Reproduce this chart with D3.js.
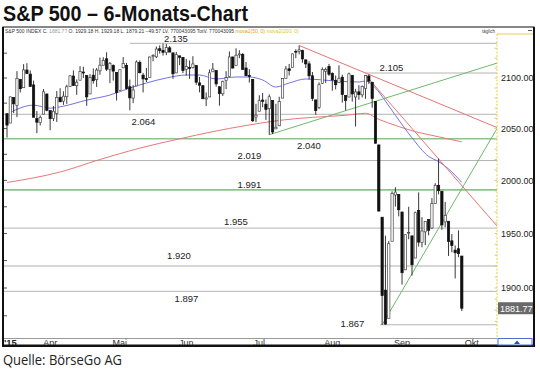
<!DOCTYPE html>
<html>
<head>
<meta charset="utf-8">
<script src="https://cdn.jsdelivr.net/npm/d3@7"></script>
<style>
  body { margin: 0; background: #fff; }
  svg { display: block; }
</style>
</head>
<body>
<svg id="chart" width="540" height="369"></svg>
<script>
// daily candles, S&P 500, 13.03.2015 - 28.09.2015
var dates = [
  "2015-03-13","2015-03-16","2015-03-17","2015-03-18","2015-03-19","2015-03-20","2015-03-23","2015-03-24","2015-03-25","2015-03-26","2015-03-27","2015-03-30","2015-03-31",
  "2015-04-01","2015-04-02","2015-04-06","2015-04-07","2015-04-08","2015-04-09","2015-04-10","2015-04-13","2015-04-14","2015-04-15","2015-04-16","2015-04-17","2015-04-20","2015-04-21","2015-04-22","2015-04-23","2015-04-24","2015-04-27","2015-04-28","2015-04-29","2015-04-30",
  "2015-05-01","2015-05-04","2015-05-05","2015-05-06","2015-05-07","2015-05-08","2015-05-11","2015-05-12","2015-05-13","2015-05-14","2015-05-15","2015-05-18","2015-05-19","2015-05-20","2015-05-21","2015-05-22","2015-05-26","2015-05-27","2015-05-28","2015-05-29",
  "2015-06-01","2015-06-02","2015-06-03","2015-06-04","2015-06-05","2015-06-08","2015-06-09","2015-06-10","2015-06-11","2015-06-12","2015-06-15","2015-06-16","2015-06-17","2015-06-18","2015-06-19","2015-06-22","2015-06-23","2015-06-24","2015-06-25","2015-06-26","2015-06-29","2015-06-30",
  "2015-07-01","2015-07-02","2015-07-06","2015-07-07","2015-07-08","2015-07-09","2015-07-10","2015-07-13","2015-07-14","2015-07-15","2015-07-16","2015-07-17","2015-07-20","2015-07-21","2015-07-22","2015-07-23","2015-07-24","2015-07-27","2015-07-28","2015-07-29","2015-07-30","2015-07-31",
  "2015-08-03","2015-08-04","2015-08-05","2015-08-06","2015-08-07","2015-08-10","2015-08-11","2015-08-12","2015-08-13","2015-08-14","2015-08-17","2015-08-18","2015-08-19","2015-08-20","2015-08-21","2015-08-24","2015-08-25","2015-08-26","2015-08-27","2015-08-28","2015-08-31",
  "2015-09-01","2015-09-02","2015-09-03","2015-09-04","2015-09-08","2015-09-09","2015-09-10","2015-09-11","2015-09-14","2015-09-15","2015-09-16","2015-09-17","2015-09-18","2015-09-21","2015-09-22","2015-09-23","2015-09-24","2015-09-25","2015-09-28"
];
var open = [
  2064.6,2055.4,2080.6,2072.8,2098.7,2090.3,2108.0,2103.9,2093.1,2059.9,2055.8,2064.1,2084.1,
  2067.6,2060.0,2064.9,2080.8,2076.9,2081.3,2091.5,2102.0,2092.3,2097.8,2106.0,2102.6,2084.1,2102.8,2098.3,2107.2,2112.8,2119.3,2108.4,2112.5,2105.5,
  2087.4,2110.2,2112.6,2091.3,2080.0,2092.1,2115.6,2102.9,2099.6,2100.4,2122.1,2121.3,2129.5,2127.8,2125.6,2130.4,2125.3,2105.1,2122.3,2120.7,
  2108.6,2110.4,2110.6,2112.4,2095.1,2092.3,2079.1,2081.1,2106.2,2107.4,2091.3,2084.3,2097.4,2101.6,2121.1,2112.5,2123.2,2123.7,2110.0,2102.6,2098.6,2061.2,
  2067.0,2078.0,2074.0,2069.5,2077.7,2049.7,2052.7,2080.0,2099.7,2109.2,2110.6,2126.8,2126.9,2127.6,2118.2,2114.2,2102.2,2078.2,2070.8,2094.7,2106.8,2111.6,
  2104.5,2097.7,2095.3,2100.8,2082.6,2081.0,2102.7,2081.1,2086.2,2083.2,2089.7,2102.0,2095.7,2076.6,2034.1,1965.2,1898.1,1872.8,1942.8,1986.1,1986.7,
  1970.1,1916.5,1950.8,1947.8,1927.3,1971.5,1941.6,1951.5,1963.1,1955.1,1978.0,1995.3,1989.7,1960.8,1961.4,1943.2,1934.6,1935.9,1929.18
];
var high = [
  2064.6,2081.4,2080.6,2106.9,2098.7,2113.9,2114.9,2107.6,2097.4,2067.2,2062.8,2089.0,2084.1,
  2067.6,2072.2,2087.0,2089.8,2086.7,2093.3,2102.6,2107.7,2098.6,2111.9,2111.3,2102.6,2103.9,2109.6,2110.0,2120.5,2120.9,2125.9,2116.0,2113.7,2105.5,
  2108.4,2121.0,2115.2,2098.4,2092.9,2117.7,2117.7,2105.1,2110.2,2121.5,2123.9,2131.8,2133.0,2134.7,2134.3,2132.2,2125.3,2126.2,2122.3,2120.7,
  2119.2,2117.6,2121.9,2112.9,2101.0,2093.0,2085.6,2108.5,2115.0,2107.4,2091.3,2097.4,2106.8,2126.7,2121.6,2129.9,2128.0,2125.1,2116.0,2108.9,2098.6,2074.3,
  2082.8,2085.1,2078.6,2083.7,2077.7,2074.3,2081.3,2099.9,2112.0,2114.1,2124.4,2128.9,2132.8,2128.5,2118.5,2116.9,2106.0,2078.2,2095.6,2110.6,2110.5,2114.2,
  2105.7,2102.5,2112.7,2103.3,2082.6,2105.4,2102.7,2089.1,2092.9,2092.5,2102.9,2103.5,2096.2,2076.6,2034.1,1965.2,1948.0,1943.1,1989.6,1993.5,1986.7,
  1970.1,1948.9,1975.0,1947.8,1970.4,1988.6,1965.3,1961.1,1963.1,1983.2,1997.3,2020.9,1989.7,1979.6,1961.4,1949.5,1938.9,1952.9,1929.18
];
var low = [
  2041.2,2055.4,2065.1,2061.2,2085.6,2090.3,2104.4,2091.5,2061.1,2045.5,2053.0,2064.1,2067.0,
  2048.4,2057.3,2056.5,2076.1,2073.3,2074.3,2091.5,2092.3,2083.2,2097.8,2100.0,2072.4,2084.1,2094.4,2091.1,2103.2,2112.8,2107.0,2094.9,2097.4,2077.6,
  2087.4,2110.2,2088.5,2067.9,2075.0,2092.1,2104.6,2085.6,2096.0,2100.4,2116.8,2120.0,2124.5,2122.6,2123.0,2126.1,2099.2,2105.1,2112.9,2104.9,
  2102.5,2099.1,2109.6,2093.2,2085.7,2079.1,2072.1,2081.1,2106.2,2091.3,2072.5,2082.1,2088.9,2101.6,2109.5,2112.5,2119.9,2108.6,2101.8,2095.4,2056.6,2056.3,
  2067.0,2071.0,2058.4,2044.0,2044.7,2049.7,2052.7,2080.0,2099.7,2102.5,2110.6,2119.9,2123.7,2115.4,2110.0,2098.6,2077.1,2063.5,2069.1,2094.1,2095.0,2102.1,
  2087.3,2088.6,2095.3,2075.5,2067.9,2081.0,2076.5,2052.1,2078.3,2080.6,2079.3,2094.1,2070.5,2035.7,1970.9,1867.0,1867.1,1872.8,1942.8,1975.2,1966.0,
  1903.1,1916.5,1944.7,1911.2,1927.3,1937.9,1937.2,1939.2,1948.3,1954.3,1977.9,1986.7,1953.5,1955.8,1929.2,1932.6,1908.7,1928.1,1879.21
];
var close = [
  2053.4,2081.2,2074.3,2099.5,2089.3,2108.1,2104.4,2091.5,2061.1,2056.2,2061.0,2086.2,2067.9,
  2059.7,2067.0,2080.6,2076.3,2081.9,2091.2,2102.1,2092.4,2095.8,2106.6,2105.0,2081.2,2100.4,2097.3,2108.0,2112.9,2117.7,2108.9,2114.8,2106.9,2085.5,
  2108.3,2114.5,2089.5,2080.2,2088.0,2116.1,2105.3,2099.1,2098.5,2121.1,2122.7,2129.2,2127.8,2125.9,2130.8,2126.1,2104.2,2123.5,2120.8,2107.4,
  2111.7,2109.6,2114.1,2095.8,2092.8,2079.3,2080.2,2105.2,2108.9,2094.1,2084.4,2096.3,2100.4,2121.2,2110.0,2122.9,2124.2,2108.6,2102.3,2101.5,2057.6,2063.1,
  2077.4,2076.8,2068.8,2081.3,2046.7,2051.3,2076.6,2099.6,2109.0,2107.4,2124.3,2126.6,2128.3,2119.2,2114.2,2102.2,2079.7,2067.6,2093.3,2108.6,2108.6,2103.8,
  2098.0,2093.3,2099.8,2083.6,2077.6,2104.2,2084.1,2086.1,2083.4,2091.5,2102.4,2096.9,2079.6,2035.7,1970.9,1893.2,1867.6,1940.5,1987.7,1988.9,1972.2,
  1913.9,1948.9,1951.1,1921.2,1969.4,1942.0,1952.3,1961.1,1953.0,1978.1,1995.3,1990.2,1958.0,1967.0,1942.7,1938.8,1932.2,1931.34,1881.77
];
var lastVolume = 770043095;

// moving averages (candle index, value)
var blueIdx = [1, 8, 13, 17, 24, 31, 37, 42, 48, 54, 58, 63, 69, 73, 77, 81, 85, 90, 99, 106, 108, 111, 114, 117, 122, 127, 130, 133, 137];
var blueVal = [2066, 2073, 2070, 2072, 2078, 2083, 2090, 2095, 2100, 2103, 2103, 2099, 2101, 2101, 2098, 2091, 2095, 2099, 2097, 2096, 2097, 2090, 2077, 2063, 2041, 2023, 2018, 2011, 1998];
var redIdx = [0, 16, 28, 40, 52, 62, 72, 82, 92, 102, 108, 112, 118, 123, 130, 137];
var redVal = [1998, 2008, 2020, 2031, 2040, 2047, 2053, 2058, 2061, 2063, 2065, 2059, 2052, 2047, 2042, 2037];

// drawn trend lines: [index, value] pairs
var redTrendA = [[88, 2132.8], [147.6, 2051]];
var redTrendB = [[108, 2102.9], [147.6, 1957]];
var greenTrendA = [[79, 2044.0], [147.6, 2115]];
var greenTrendB = [[113, 1867.0], [147.6, 2050]];

// horizontal marks
var levels = [2135, 2105, 2064, 2040, 2019, 1991, 1955, 1920, 1897, 1867];
var greenLevels = [2040, 1991];
var rightTicks = [2100, 2050, 2000, 1950, 1900];
var monthLabels = ["Apr", "Mai", "Jun", "Jul", "Aug", "Sep", "Okt"];
var monthIdx = [13, 34, 54, 76, 98, 119, 140];

var svg = d3.select("#chart");
var PLOT = {LEFT: 4, TOP: 28, RIGHT: 497, BOTTOM: 338};

var x = d3.scaleLinear().domain([0, 137]).range([7, 461.8]);
var y = d3.scaleLog().domain([1900, 2100]).range([288, 78]);

var de = d3.formatLocale({decimal: ",", thousands: ".", grouping: [3], currency: ["", "€"]});
var fmtLevel = de.format(",d");
var fmt2 = d3.format(".2f");

// title and source
svg.append("text")
  .attr("x", 3).attr("y", 21)
  .attr("textLength", 245).attr("lengthAdjust", "spacingAndGlyphs")
  .style("font-family", "'Liberation Sans', Arial, sans-serif")
  .style("font-weight", 700).style("font-size", "21.5px").style("fill", "#111")
  .text("S&P 500 \u2013 6-Monats-Chart");

svg.append("text")
  .attr("x", 3).attr("y", 365)
  .attr("textLength", 119).attr("lengthAdjust", "spacingAndGlyphs")
  .style("font-family", "'Open Sans', 'Noto Sans', sans-serif")
  .style("font-size", "14px").style("fill", "#222")
  .text("Quelle: B\u00f6rseGo AG");

// frame
svg.append("rect")
  .attr("x", 3).attr("y", 27).attr("width", 531).attr("height", 318)
  .style("fill", "#fff").style("stroke", "#111").style("stroke-width", 1);
svg.append("line").attr("x1", 3).attr("x2", 3).attr("y1", 27).attr("y2", 346)
  .style("stroke", "#111").style("stroke-width", 2);
svg.append("line").attr("x1", 534).attr("x2", 534).attr("y1", 27).attr("y2", 346)
  .style("stroke", "#111").style("stroke-width", 2);
svg.append("line").attr("x1", 2).attr("x2", 535).attr("y1", 346).attr("y2", 346)
  .style("stroke", "#111").style("stroke-width", 2);

svg.append("defs").append("clipPath").attr("id", "plotclip")
  .append("rect")
  .attr("x", PLOT.LEFT).attr("y", PLOT.TOP)
  .attr("width", PLOT.RIGHT - PLOT.LEFT).attr("height", PLOT.BOTTOM - PLOT.TOP);

var plot = svg.append("g").attr("clip-path", "url(#plotclip)");

// horizontal levels
var levelLayout = {
  2135: {x0: 130, lx: 176, ly: 41.5},
  2105: {x0: 365, lx: 391.5, ly: 71},
  2064: {x0: 4, lx: 143.5, ly: 124.5},
  2040: {x0: 4, lx: 309, ly: 148.5},
  2019: {x0: 4, lx: 249.5, ly: 158.5},
  1991: {x0: 4, lx: 249.5, ly: 188},
  1955: {x0: 4, lx: 236, ly: 224.5},
  1920: {x0: 4, lx: 179, ly: 259},
  1897: {x0: 4, lx: 186.5, ly: 302},
  1867: {x0: 380, lx: 352.5, ly: 327}
};

levels.forEach(function(v) {
  var isGreen = greenLevels.indexOf(v) >= 0;
  plot.append("line")
    .attr("x1", levelLayout[v].x0).attr("x2", PLOT.RIGHT)
    .attr("y1", y(v)).attr("y2", y(v))
    .style("stroke", isGreen ? "#8cc48c" : (v == 1920 ? "#c8c8c8" : "#b4b4b4"))
    .style("stroke-width", (isGreen || v == 1920) ? 1.6 : 1);
  svg.append("text")
    .attr("x", levelLayout[v].lx).attr("y", levelLayout[v].ly)
    .attr("text-anchor", "middle")
    .style("font-family", "'Liberation Sans', Arial, sans-serif")
    .style("font-size", "9.5px").style("fill", "#222")
    .text(fmtLevel(v));
});

// moving averages
var maLine = d3.line()
  .x(function(d) { return x(d[0]); })
  .y(function(d) { return y(d[1]); })
  .curve(d3.curveMonotoneX);

plot.append("path")
  .datum(redIdx.map(function(d, i) { return [d, redVal[i]]; }))
  .attr("d", maLine)
  .style("fill", "none").style("stroke", "#e87878").style("stroke-width", 1);

plot.append("path")
  .datum(blueIdx.map(function(d, i) { return [d, blueVal[i]]; }))
  .attr("d", maLine)
  .style("fill", "none").style("stroke", "#7272e2").style("stroke-width", 1);

// trend lines
var straight = d3.line()
  .x(function(d) { return x(d[0]); })
  .y(function(d) { return y(d[1]); });

[[redTrendA, "#e87474"], [redTrendB, "#e87474"], [greenTrendA, "#6cb86c"], [greenTrendB, "#6cb86c"]]
  .forEach(function(t) {
    plot.append("path").attr("d", straight(t[0]))
      .style("fill", "none").style("stroke", t[1]).style("stroke-width", 1);
  });

// candles
var BODY = 2.3;
var candles = plot.append("g").selectAll("g")
  .data(dates)
  .enter()
  .append("g");

candles.append("line")
  .attr("x1", function(d, i) { return x(i); })
  .attr("x2", function(d, i) { return x(i); })
  .attr("y1", function(d, i) { return y(high[i]); })
  .attr("y2", function(d, i) { return y(low[i]); })
  .style("stroke", "#222").style("stroke-width", 0.9);

candles.append("rect")
  .attr("x", function(d, i) { return x(i) - BODY / 2; })
  .attr("width", BODY)
  .attr("y", function(d, i) { return y(Math.max(open[i], close[i])); })
  .attr("height", function(d, i) { return Math.max(0.8, Math.abs(y(open[i]) - y(close[i]))); })
  .style("fill", function(d, i) { return close[i] >= open[i] ? "#fff" : "#111"; })
  .style("stroke", function(d, i) { return close[i] >= open[i] ? "#444" : "#111"; })
  .style("stroke-width", 0.7);

// left ticks every 25 points
d3.range(1875, 2126, 25).forEach(function(v) {
  svg.append("line").attr("x1", 4).attr("x2", 7)
    .attr("y1", y(v)).attr("y2", y(v))
    .style("stroke", "#555").style("stroke-width", 1);
});

// right price axis (yellow dashed)
svg.append("line").attr("x1", PLOT.RIGHT).attr("x2", PLOT.RIGHT)
  .attr("y1", 34).attr("y2", PLOT.BOTTOM)
  .style("stroke", "#e6cf4a").style("stroke-width", 1).style("stroke-dasharray", "2,1.5");
svg.append("line").attr("x1", PLOT.RIGHT).attr("x2", 533)
  .attr("y1", 34).attr("y2", 34)
  .style("stroke", "#e6cf4a").style("stroke-width", 1);
d3.range(1870, 2131, 10).forEach(function(v) {
  svg.append("line").attr("x1", PLOT.RIGHT - 2.5).attr("x2", PLOT.RIGHT)
    .attr("y1", y(v)).attr("y2", y(v))
    .style("stroke", "#e6cf4a").style("stroke-width", 1);
});

var rightAxis = svg.append("g");
rightTicks.forEach(function(v) {
  rightAxis.append("text")
    .attr("x", 501).attr("y", y(v) + 3.3)
    .style("font-family", "'Liberation Sans', Arial, sans-serif")
    .style("font-size", "9px").style("fill", "#222")
    .text(fmt2(v));
});

var last = close[close.length - 1];
svg.append("rect")
  .attr("x", 498).attr("y", y(last) - 6).attr("width", 35).attr("height", 12)
  .style("fill", "#6a6a6a");
svg.append("text")
  .attr("x", 500).attr("y", y(last) + 3.3)
  .style("font-family", "'Liberation Sans', Arial, sans-serif")
  .style("font-size", "9px").style("fill", "#fff")
  .text(fmt2(last));

// x axis band
svg.append("line").attr("x1", 4).attr("x2", PLOT.RIGHT)
  .attr("y1", PLOT.BOTTOM + 0.5).attr("y2", PLOT.BOTTOM + 0.5)
  .style("stroke", "#999").style("stroke-width", 1);

svg.append("defs").append("clipPath").attr("id", "axisclip")
  .append("rect").attr("x", 4).attr("y", 338).attr("width", 493).attr("height", 7);
var xAxis = svg.append("g").attr("clip-path", "url(#axisclip)");
xAxis.append("text").attr("x", 4).attr("y", 345.5)
  .style("font-family", "'Liberation Sans', Arial, sans-serif")
  .style("font-size", "9.5px").style("font-weight", 700).style("fill", "#222")
  .text("'15");
monthLabels.forEach(function(m, i) {
  xAxis.append("text")
    .attr("x", x(monthIdx[i])).attr("y", 345.5)
    .attr("text-anchor", "middle")
    .style("font-family", "'Liberation Sans', Arial, sans-serif")
    .style("font-size", "9px").style("fill", "#333")
    .text(m);
});

// little scroll box bottom right
svg.append("rect").attr("x", 498).attr("y", 338.5).attr("width", 34).attr("height", 6.5)
  .style("fill", "#fff").style("stroke", "#4a6fd0").style("stroke-width", 1);
svg.append("path").attr("d", "M514,344 L517,340.5 L520,344 Z").style("fill", "#2a4fc0");

// header line
var i0 = close.length - 1;
var prev = close[i0 - 1];
var header = svg.append("text").attr("x", 5).attr("y", 33)
  .style("font-family", "'Liberation Sans', Arial, sans-serif")
  .style("font-size", "5px").style("fill", "#333");
header.append("tspan").text("S&P 500 INDEX C. ");
header.append("tspan").style("fill", "#999").text(fmt2(close[i0]));
header.append("tspan").text(" O. " + fmt2(open[i0]) + " H. " + fmt2(high[i0]) + " L. " + fmt2(low[i0]) +
  " " + fmt2(close[i0] - prev) + " LV. " + lastVolume + " TotV. " + lastVolume + " ");
header.append("tspan").style("fill", "#e0a020").text("mova1(50, 0) ");
header.append("tspan").style("fill", "#d8c830").text("mova2(200, 0)");

svg.append("text").attr("x", 482).attr("y", 33)
  .style("font-family", "'Liberation Sans', Arial, sans-serif")
  .style("font-size", "4.5px").style("fill", "#444")
  .text("t\u00e4glich");
svg.append("line").attr("x1", 528).attr("x2", 532).attr("y1", 30.5).attr("y2", 30.5)
  .style("stroke", "#555").style("stroke-width", 1);
</script>
</body>
</html>
